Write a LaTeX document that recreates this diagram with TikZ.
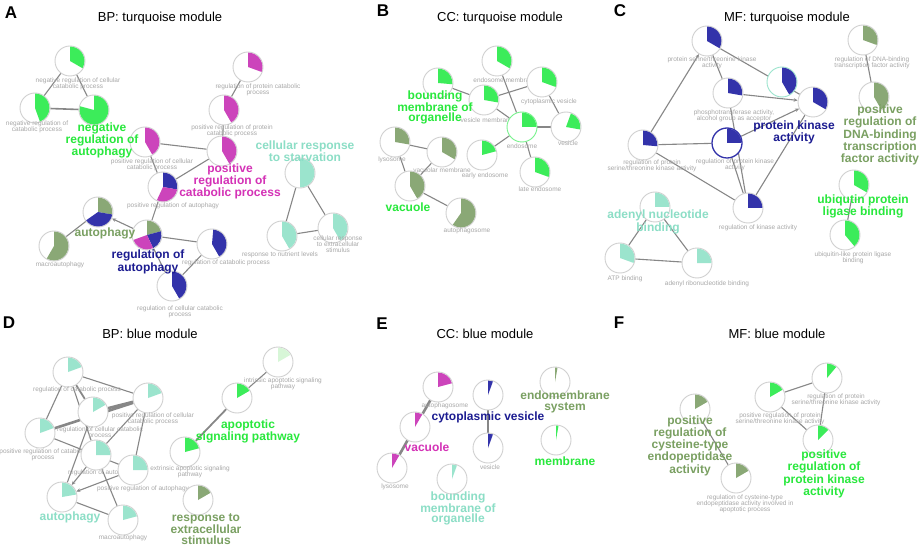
\documentclass[tikz,border=0pt]{standalone}
\usepackage{fontspec}
\setmainfont{Liberation Sans}
\usetikzlibrary{arrows.meta}
\definecolor{colG}{RGB}{60,236,90}
\definecolor{colGt}{RGB}{40,232,60}
\definecolor{colM}{RGB}{204,68,187}
\definecolor{colMt}{RGB}{212,50,182}
\definecolor{colN}{RGB}{51,51,170}
\definecolor{colNt}{RGB}{28,28,145}
\definecolor{colS}{RGB}{138,168,118}
\definecolor{colSt}{RGB}{122,160,98}
\definecolor{colT}{RGB}{155,228,205}
\definecolor{colTt}{RGB}{140,222,198}
\definecolor{colLG}{RGB}{215,246,215}
\definecolor{labgray}{RGB}{168,168,168}
\definecolor{ringgray}{RGB}{208,208,208}
\definecolor{edgegray}{RGB}{135,135,135}
\pgfdeclarelayer{bg}
\pgfsetlayers{bg,main}
\tikzset{
  pnode/.style={circle, draw=ringgray, fill=white, line width=0.9pt, minimum size=30pt, inner sep=0pt},
  slab/.style={font=\fontsize{6.5}{6.1}\selectfont, text=labgray, align=center, inner sep=0pt},
  blab/.style={font=\bfseries\fontsize{12}{10.3}\selectfont, align=center, inner sep=0pt},
  ttl/.style={font=\fontsize{13}{15}\selectfont, inner sep=0pt},
  letter/.style={font=\bfseries\fontsize{17}{19}\selectfont, inner sep=0pt},
  lnk/.style={draw=edgegray, line width=1.1pt},
  thk/.style={draw=edgegray, line width=2.6pt},
  arr/.style={-{Stealth[length=4pt,width=3.5pt]}},
}
\newcommand\pienode[5][]{%
  \node[pnode,#1] (#2) at (#3,#4) {};
  \foreach \slA/\slB/\slC in {#5}{%
    \fill[fill=\slC] (#2.center) -- +(90-\slA:14.4pt) arc[start angle=90-\slA, end angle=90-\slB, radius=14.4pt] -- cycle;}%
}
\begin{document}
\begin{tikzpicture}[x=1pt,y=-1pt]
\begin{pgfonlayer}{bg}
\fill[white] (0,0) rectangle (920,545);
\end{pgfonlayer}
\useasboundingbox (0,0) rectangle (920,545);

% ================= Panel A =================
\node[letter] (LA) at (11,13) {A};
\node[ttl] (TA) at (160,18) {BP: turquoise module};
\pienode{a1}{70}{61}{0/120/colG}
\node[slab] (a1l) at (78,83.5) {negative regulation of cellular\\catabolic process};
\pienode{a2}{35}{108}{0/160/colG}
\node[slab] (a2l) at (37,127) {negative regulation of\\catabolic process};
\pienode{a3}{94}{110}{0/285/colG}
\pienode{a4}{248}{67}{0/110/colM}
\node[slab] (a4l) at (258,89.5) {regulation of protein catabolic\\process};
\pienode{a5}{224}{110}{0/150/colM}
\node[slab] (a5l) at (232,131) {positive regulation of protein\\catabolic process};
\pienode{a6}{145}{142}{0/150/colM}
\node[slab] (a6l) at (152,164.5) {positive regulation of cellular\\catabolic process};
\pienode{a7}{222}{151}{0/150/colM}
\pienode{a8}{163}{187}{0/100/colN,100/205/colM}
\node[slab] (a8l) at (173,206) {positive regulation of autophagy};
\pienode{a9}{98}{212}{0/100/colS,100/235/colN}
\pienode{a10}{54}{246}{0/210/colS}
\node[slab] (a10l) at (60,265) {macroautophagy};
\pienode{a11}{147}{235}{0/75/colS,75/155/colN,155/250/colM}
\pienode{a12}{212}{244}{5/150/colN}
\node[slab] (a12l) at (226,263) {regulation of catabolic process};
\pienode{a13}{172}{286}{0/150/colN}
\node[slab] (a13l) at (180,311.5) {regulation of cellular catabolic\\process};
\pienode{a14}{300}{173}{0/180/colT}
\pienode{a15}{282}{236}{0/150/colT}
\node[slab] (a15l) at (280,255) {response to nutrient levels};
\pienode{a16}{333}{228}{0/150/colT}
\node[slab] (a16l) at (338,244) {cellular response\\to extracellular\\stimulus};
\node[blab,text=colGt] (a3l) at (102,140.5) {negative\\regulation of\\autophagy};
\node[blab,text=colMt] (a7l) at (230,181.5) {positive\\regulation of\\catabolic process};
\node[blab,text=colSt] (a9l) at (105,233) {autophagy};
\node[blab,text=colNt] (a11l) at (148,262) {regulation of\\autophagy};
\node[blab,text=colTt] (a14l) at (305,151.5) {cellular response\\to starvation};

% ================= Panel B =================
\node[letter] (LB) at (383,11) {B};
\node[ttl] (TB) at (500,18) {CC: turquoise module};
\pienode{b1}{497}{61}{0/120/colG}
\node[slab] (b1l) at (505,80) {endosome membrane};
\pienode{b2}{438}{83}{0/95/colG}
\pienode{b3}{484}{100}{0/100/colG}
\node[slab] (b3l) at (487,120) {vesicle membrane};
\pienode{b4}{542}{82}{0/110/colG}
\node[slab] (b4l) at (549,102) {cytoplasmic vesicle};
\pienode[draw=colG!70]{b5}{522}{127}{0/90/colG}
\node[slab] (b5l) at (522,146) {endosome};
\pienode{b6}{566}{127}{20/100/colG}
\node[slab] (b6l) at (568,143) {vesicle};
\pienode{b7}{482}{155}{0/75/colG}
\node[slab] (b7l) at (485,176) {early endosome};
\pienode{b8}{535}{172}{0/110/colG}
\node[slab] (b8l) at (540,189) {late endosome};
\pienode{b9}{395}{142}{0/100/colS}
\node[slab] (b9l) at (392,160) {lysosome};
\pienode{b10}{442}{152}{0/120/colS}
\node[slab] (b10l) at (442,170) {vacuolar membrane};
\pienode{b11}{410}{186}{0/150/colS}
\pienode{b12}{461}{213}{0/215/colS}
\node[slab] (b12l) at (467,231) {autophagosome};
\node[blab,text=colGt] (b2l) at (435,107.5) {bounding\\membrane of\\organelle};
\node[blab,text=colGt] (b11l) at (408,207) {vacuole};

% ================= Panel C =================
\node[letter] (LC) at (620,11) {C};
\node[ttl] (TC) at (787,18) {MF: turquoise module};
\pienode{c1}{707}{41}{0/120/colN}
\node[slab] (c1l) at (712,62.5) {protein serine/threonine kinase\\activity};
\pienode[draw=colT]{c2}{782}{82}{0/150/colN}
\pienode{c3}{728}{93}{0/100/colN}
\node[slab] (c3l) at (734,115.5) {phosphotransferase activity,\\alcohol group as acceptor};
\pienode{c4}{813}{102}{0/120/colN}
\pienode[draw=colN,line width=1.3pt]{c5}{727}{143}{0/90/colN}
\node[slab] (c5l) at (735,164.5) {regulation of protein kinase\\activity};
\pienode{c6}{643}{145}{0/95/colN}
\node[slab] (c6l) at (652,166) {regulation of protein\\serine/threonine kinase activity};
\pienode{c7}{748}{208}{0/90/colN}
\node[slab] (c7l) at (758,228) {regulation of kinase activity};
\pienode{c8}{863}{40}{0/110/colS}
\node[slab] (c8l) at (872,62.5) {regulation of DNA-binding\\transcription factor activity};
\pienode{c9}{874}{97}{0/150/colS}
\pienode{c10}{854}{185}{0/120/colG}
\pienode{c11}{845}{235}{0/140/colG}
\node[slab] (c11l) at (853,258) {ubiquitin-like protein ligase\\binding};
\pienode{c12}{655}{207}{0/90/colT}
\pienode{c13}{620}{258}{0/110/colT}
\node[slab] (c13l) at (625,279) {ATP binding};
\pienode{c14}{697}{263}{0/90/colT}
\node[slab] (c14l) at (707,284) {adenyl ribonucleotide binding};
\node[blab,text=colNt] (c4l) at (794,132) {protein kinase\\activity};
\node[blab,text=colSt,font=\bfseries\fontsize{12}{11}\selectfont] (c9l) at (880,135) {positive\\regulation of\\DNA-binding\\transcription\\factor activity};
\node[blab,text=colGt] (c10l) at (863,206.5) {ubiqutin protein\\ligase binding};
\node[blab,text=colTt,font=\bfseries\fontsize{12}{13}\selectfont] (c12l) at (658,222) {adenyl nucleotide\\binding};

% ================= Panel D =================
\node[letter] (LD) at (9,323) {D};
\node[ttl] (TD) at (150,334) {BP: blue module};
\pienode{d1}{68}{372}{0/70/colT}
\node[slab] (d1l) at (77,390) {regulation of catabolic process};
\pienode{d2}{148}{398}{0/70/colT}
\node[slab] (d2l) at (153,419) {positive regulation of cellular\\catabolic process};
\pienode{d3}{93}{412}{0/60/colT}
\node[slab] (d3l) at (100,432.5) {regulation of cellular catabolic\\process};
\pienode{d4}{40}{433}{0/70/colT}
\node[slab] (d4l) at (43,454.5) {positive regulation of catabolic\\process};
\pienode{d5}{96}{455}{0/90/colT}
\node[slab] (d5l) at (102,473) {regulation of autophagy};
\pienode{d6}{133}{470}{0/90/colT}
\node[slab] (d6l) at (143,489) {positive regulation of autophagy};
\pienode{d7}{62}{497}{0/80/colT}
\pienode{d8}{123}{520}{0/75/colT}
\node[slab] (d8l) at (123,538) {macroautophagy};
\pienode{d9}{278}{362}{0/60/colLG}
\node[slab] (d9l) at (283,384) {intrinsic apoptotic signaling\\pathway};
\pienode{d10}{237}{398}{0/60/colG}
\pienode{d11}{185}{452}{0/75/colG}
\node[slab] (d11l) at (190,472) {extrinsic apoptotic signaling\\pathway};
\pienode{d12}{198}{500}{0/60/colS}
\node[blab,text=colTt] (d7l) at (70,517) {autophagy};
\node[blab,text=colGt] (d10l) at (248,431.5) {apoptotic\\signaling pathway};
\node[blab,text=colSt] (d12l) at (206,529) {response to\\extracellular\\stimulus};

% ================= Panel E =================
\node[letter] (LE) at (382,324) {E};
\node[ttl] (TE) at (485,334) {CC: blue module};
\pienode{e1}{438}{387}{0/75/colM}
\node[slab] (e1l) at (445,406) {autophagosome};
\pienode{e2}{415}{427}{0/30/colM}
\pienode{e3}{392}{468}{0/30/colM}
\node[slab] (e3l) at (395,487) {lysosome};
\pienode{e4}{488}{395}{0/20/colN}
\pienode{e5}{488}{448}{0/20/colN}
\node[slab] (e5l) at (490,467) {vesicle};
\pienode{e6}{555}{382}{0/10/colS}
\pienode{e7}{556}{440}{0/10/colG}
\pienode{e8}{452}{479}{0/20/colT}
\node[blab,text=colMt] (e2l) at (427,447) {vacuole};
\node[blab,text=colNt] (e4l) at (488,417) {cytoplasmic vesicle};
\node[blab,text=colSt] (e6l) at (565,402) {endomembrane\\system};
\node[blab,text=colGt] (e7l) at (565,461) {membrane};
\node[blab,text=colTt] (e8l) at (458,508.5) {bounding\\membrane of\\organelle};

% ================= Panel F =================
\node[letter] (LF) at (619,323) {F};
\node[ttl] (TF) at (777,334) {MF: blue module};
\pienode{f1}{695}{409}{0/60/colS}
\pienode{f2}{736}{478}{0/60/colS}
\node[slab] (f2l) at (745,503.5) {regulation of cysteine-type\\endopeptidase activity involved in\\apoptotic process};
\pienode{f3}{770}{397}{0/60/colG}
\node[slab] (f3l) at (780,419) {positive regulation of protein\\serine/threonine kinase activity};
\pienode{f4}{827}{378}{0/40/colG}
\node[slab] (f4l) at (836,400) {regulation of protein\\serine/threonine kinase activity};
\pienode{f5}{818}{440}{0/45/colG}
\node[blab,text=colSt] (f1l) at (690,445.5) {positive\\regulation of\\cysteine-type\\endopeptidase\\activity};
\node[blab,text=colGt] (f5l) at (824,474) {positive\\regulation of\\protein kinase\\activity};

% ================= Edges =================
\begin{pgfonlayer}{bg}
% A
\draw[lnk] (a1) -- (a2);
\draw[lnk] (a1) -- (a3);
\draw[lnk,line width=1.6pt] (a2) -- (a3);
\draw[lnk] (a4) -- (a5);
\draw[lnk] (a5) -- (a7);
\draw[lnk] (a6) -- (a7);
\draw[lnk] (a6) -- (a8);
\draw[lnk] (a7) -- (a8);
\draw[lnk] (a8) -- (a11);
\draw[lnk,arr] (a11) -- (a9);
\draw[lnk] (a9) -- (a10);
\draw[lnk] (a11) -- (a12);
\draw[lnk] (a11) -- (a13);
\draw[lnk] (a12) -- (a13);
\draw[lnk] (a14) -- (a15);
\draw[lnk] (a14) -- (a16);
\draw[lnk] (a15) -- (a16);
% B
\draw[lnk] (b2) -- (b3);
\draw[lnk] (b1) -- (b5);
\draw[lnk] (b3) -- (b4);
\draw[lnk] (b3) -- (b5);
\draw[lnk] (b4) -- (b6);
\draw[lnk] (b5) -- (b6);
\draw[lnk] (b5) -- (b7);
\draw[lnk] (b5) -- (b8);
\draw[lnk] (b9) -- (b10);
\draw[lnk] (b9) -- (b11);
\draw[lnk] (b10) -- (b11);
\draw[lnk] (b11) -- (b12);
% C
\draw[lnk] (c1) -- (c3);
\draw[lnk] (c1) -- (c4);
\draw[lnk,arr] (c6) -- (c1);
\draw[lnk,arr] (c3) -- (c4);
\draw[lnk] (c6) -- (c5);
\draw[lnk] (c6) -- (c7);
\draw[lnk] (c5) -- (c7);
\draw[lnk] (c3) -- (c7);
\draw[lnk,arr] (c5) -- (c4);
\draw[lnk] (c7) -- (c4);
\draw[lnk] (c8) -- (c9);
\draw[lnk] (c10) -- (c11);
\draw[lnk] (c12) -- (c13);
\draw[lnk] (c12) -- (c14);
\draw[lnk] (c13) -- (c14);
% D
\draw[lnk] (d1) -- (d4);
\draw[lnk,line width=1.8pt] (d1) -- (d3);
\draw[lnk] (d1) -- (d2);
\draw[lnk] (d1) -- (d5);
\draw[thk] (d3) -- (d2);
\draw[thk] (d4) -- (d2);
\draw[lnk] (d4) -- (d6);
\draw[lnk] (d2) -- (d5);
\draw[lnk] (d2) -- (d6);
\draw[lnk,arr] (d5) -- (d7);
\draw[lnk,arr] (d6) -- (d7);
\draw[lnk] (d3) -- (d7);
\draw[lnk] (d5) -- (d8);
\draw[lnk] (d7) -- (d8);
\draw[lnk] (d10) -- (d9);
\draw[lnk,line width=1.8pt] (d10) -- (d11);
% E
\draw[thk] (e1) -- (e2);
\draw[thk] (e2) -- (e3);
\draw[thk] (e4) -- (e5);
% F
\draw[lnk] (f1) -- (f2);
\draw[lnk] (f3) -- (f4);
\draw[lnk] (f3) -- (f5);
\draw[lnk] (f4) -- (f5);
\end{pgfonlayer}
\end{tikzpicture}
\end{document}
